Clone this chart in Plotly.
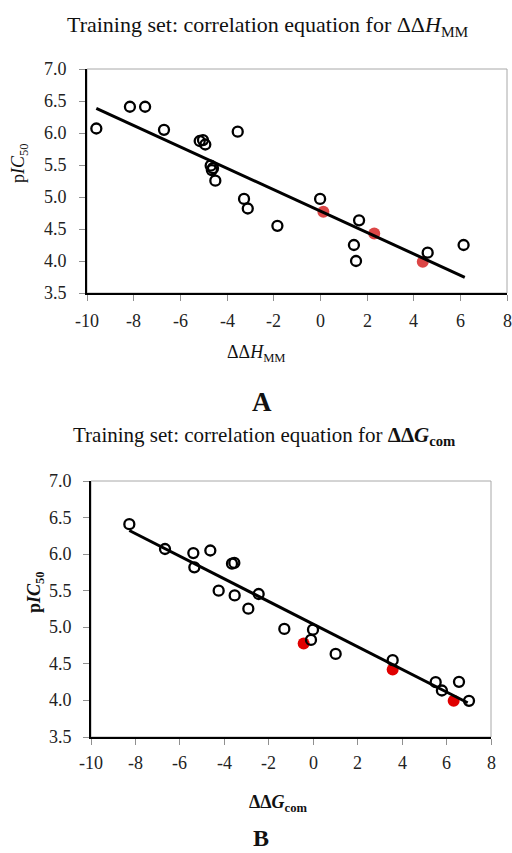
import plotly.graph_objects as go

# ---- Panel A data (ΔΔH_MM vs pIC50) ----
a_open_x = [-9.6, -8.16, -7.51, -6.7, -5.17, -5.03, -4.93, -3.54, -4.7, -4.6, -4.65, -4.5,
            -3.27, -3.11, -1.84, -0.01, 1.66, 1.44, 1.53, 4.6, 6.14]
a_open_y = [6.07, 6.41, 6.41, 6.05, 5.875, 5.89, 5.82, 6.02, 5.49, 5.45, 5.42, 5.255,
            4.97, 4.82, 4.55, 4.97, 4.635, 4.25, 4.0, 4.13, 4.25]
a_red_x = [0.13, 2.31, 4.39]
a_red_y = [4.77, 4.43, 3.99]
a_fit_x = [-9.6, 6.19]
a_fit_y = [6.385, 3.745]

# ---- Panel B data (ΔΔG_com vs pIC50) ----
b_open_x = [-8.275, -6.67, -5.395, -5.35, -4.63, -3.655, -3.55, -4.255, -3.535, -2.455,
            -2.92, -1.3, -0.01, -0.1, 1.01, 3.575, 5.51, 5.79, 6.56, 7.01]
b_open_y = [6.41, 6.07, 6.014, 5.82, 6.05, 5.87, 5.88, 5.50, 5.436, 5.455,
            5.255, 4.977, 4.968, 4.827, 4.636, 4.55, 4.25, 4.136, 4.254, 3.995]
b_red_x = [-0.43, 3.575, 6.32]
b_red_y = [4.777, 4.423, 3.995]
b_fit_x = [-8.275, 6.95]
b_fit_y = [6.323, 3.968]

x_ticks = [-10, -8, -6, -4, -2, 0, 2, 4, 6, 8]
x_ticklabels = ["-10", "-8", "-6", "-4", "-2", "0", "2", "4", "6", "8"]
y_ticks = [3.5, 4.0, 4.5, 5.0, 5.5, 6.0, 6.5, 7.0]
y_ticklabels = ["3.5", "4.0", "4.5", "5.0", "5.5", "6.0", "6.5", "7.0"]

FONT = "Liberation Serif"
W, H = 512, 853

fig = go.Figure()

def add_panel(xa, ya, ox, oy, rx, ry, fx, fy, red):
    fig.add_trace(go.Scatter(x=rx, y=ry, mode="markers", xaxis=xa, yaxis=ya,
                             marker=dict(color=red, size=12, line=dict(width=0)),
                             showlegend=False, hoverinfo="skip"))
    fig.add_trace(go.Scatter(x=fx, y=fy, mode="lines", xaxis=xa, yaxis=ya,
                             line=dict(color="black", width=3),
                             showlegend=False, hoverinfo="skip"))
    fig.add_trace(go.Scatter(x=ox, y=oy, mode="markers", xaxis=xa, yaxis=ya,
                             marker=dict(symbol="circle-open", color="black", size=10,
                                         line=dict(width=2.3, color="black")),
                             showlegend=False, hoverinfo="skip"))

add_panel("x", "y", a_open_x, a_open_y, a_red_x, a_red_y, a_fit_x, a_fit_y, "#dc4646")
add_panel("x2", "y2", b_open_x, b_open_y, b_red_x, b_red_y, b_fit_x, b_fit_y, "#e00000")

def py(px):
    return 1 - px / H

def px_(p):
    return p / W

axis_common = dict(showgrid=False, zeroline=False, showline=True, linecolor="black",
                   linewidth=1.5, ticks="outside", ticklen=6, tickcolor="#909090",
                   tickwidth=1, automargin=False, showticklabels=False)

fig.update_layout(
    width=W, height=H, margin=dict(l=0, r=0, t=0, b=0, autoexpand=False),
    paper_bgcolor="white", plot_bgcolor="white",
    font=dict(family=FONT),
    xaxis=dict(domain=[px_(87), px_(507)], range=[-10, 8], tickvals=x_ticks,
               anchor="y", **axis_common),
    yaxis=dict(domain=[py(293), py(69)], range=[3.5, 7.0], tickvals=y_ticks,
               anchor="x", **axis_common),
    xaxis2=dict(domain=[px_(91), px_(491)], range=[-10, 8], tickvals=x_ticks,
                anchor="y2", **axis_common),
    yaxis2=dict(domain=[py(737), py(481)], range=[3.5, 7.0], tickvals=y_ticks,
                anchor="x2", **axis_common),
)

for xr, yr in [("x", "y"), ("x2", "y2")]:
    fig.add_shape(type="rect", xref=f"{xr} domain", yref=f"{yr} domain",
                  x0=0, x1=1, y0=0, y1=1, line=dict(color="#a8a8a8", width=1),
                  layer="below")

# tick labels (serif, hyphen minus) placed on the axes' own scales
def tick_labels(xr, yr, xlab_y, ylab_x):
    for v, t in zip(x_ticks, x_ticklabels):
        fig.add_annotation(text=t, x=v, xref=xr, y=py(xlab_y), yref="paper",
                           showarrow=False, xanchor="center", yanchor="middle",
                           font=dict(family=FONT, size=18, color="#222"))
    for v, t in zip(y_ticks, y_ticklabels):
        fig.add_annotation(text=t, x=ylab_x / W, xref="paper", y=v, yref=yr,
                           showarrow=False, xanchor="right", yanchor="middle",
                           font=dict(family=FONT, size=18, color="#222"))

tick_labels("x", "y", 321, 69)
tick_labels("x2", "y2", 763, 74)

def ann(text, x, y, size, angle=0, yanchor="middle"):
    fig.add_annotation(text=text, x=x / W, y=py(y), xref="paper", yref="paper",
                       showarrow=False, textangle=angle, xanchor="center", yanchor=yanchor,
                       font=dict(family=FONT, size=size, color="#111"))

ann("Training set: correlation equation for ΔΔ<i>H</i><sub>MM</sub>", 268, 26, 22)
ann("ΔΔ<i>H</i><sub>MM</sub>", 256, 353, 18)
ann("<b>A</b>", 262, 402, 27)
ann("p<i>IC</i><sub>50</sub>", 19, 163, 18, -90)

ann("Training set: correlation equation for <b>ΔΔ<i>G</i><sub>com</sub></b>", 264, 436, 21)
ann("<b>ΔΔ<i>G</i><sub>com</sub></b>", 278, 803, 18)
ann("<b>B</b>", 261, 853, 24, yanchor="bottom")
ann("<b>p<i>IC</i><sub>50</sub></b>", 35, 592, 18, -90)

fig.write_html("out.html")
